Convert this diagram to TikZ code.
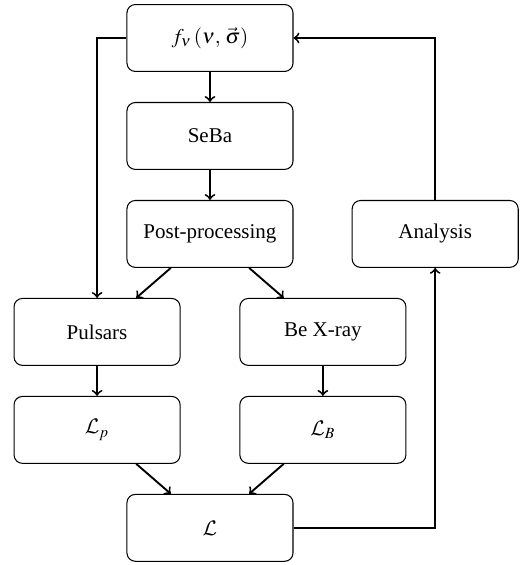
\documentclass[tikz,border=0pt]{standalone}
\usepackage{amsmath}
\usepackage{mathptmx}
\DeclareMathAlphabet{\mathcal}{OMS}{cmsy}{m}{n}
\usepackage{fontspec}
\setmainfont{Liberation Serif}
\usetikzlibrary{shapes,arrows,positioning}
\tikzstyle{block} = [draw, rectangle, rounded corners=4pt, line width=0.5pt, minimum height=1.12cm, minimum width=2.78cm]
\tikzstyle{line} = [line width=0.9pt]

\begin{document}
\begin{tikzpicture}[auto, node distance=1.64cm, >=to]
	  \useasboundingbox (-3.515,0.636) rectangle (5.273,-8.822);
	  \node [block] (f) {$f_\nu\,(\nu,\,\vec{\sigma})$};
	  \node [block, below of=f] (seba) {SeBa};
	  \node [block, below of=seba] (post) {Post-processing};
	  \node [block, right of=post, node distance=3.77cm] (analysis) {Analysis};
	  \node [block, below of=post, xshift=-1.89cm] (pulsars) {Pulsars};
	  \node [block, below of=post, xshift=1.89cm] (bex) {Be X-ray};
	  \node [block, below of=pulsars] (Lp) {$\mathcal{L}_p$};
	  \node [block, below of=bex] (LB) {$\mathcal{L}_B$};
	  \node [block, below of=Lp, xshift=1.89cm] (L) {$\mathcal{L}$};
	
	  \draw [line, ->] (f) -- (seba);
	  \draw [line, ->] (seba) -- (post);
	  \draw [line, ->] (post) -- (pulsars);
	  \draw [line, ->] (post) -- (bex);
	  \draw [line, ->] (f.west) -| (pulsars.north);
	  \draw [line, ->] (pulsars) -- (Lp);
	  \draw [line, ->] (bex) -- (LB);
	  \draw [line, ->] (Lp) -- (L);
	  \draw [line, ->] (LB) -- (L);
	  \draw [line, ->] (L.east) -| (analysis.south);
	  \draw [line, ->] (analysis.north) |- (f.east);
	\end{tikzpicture}
\end{document}
